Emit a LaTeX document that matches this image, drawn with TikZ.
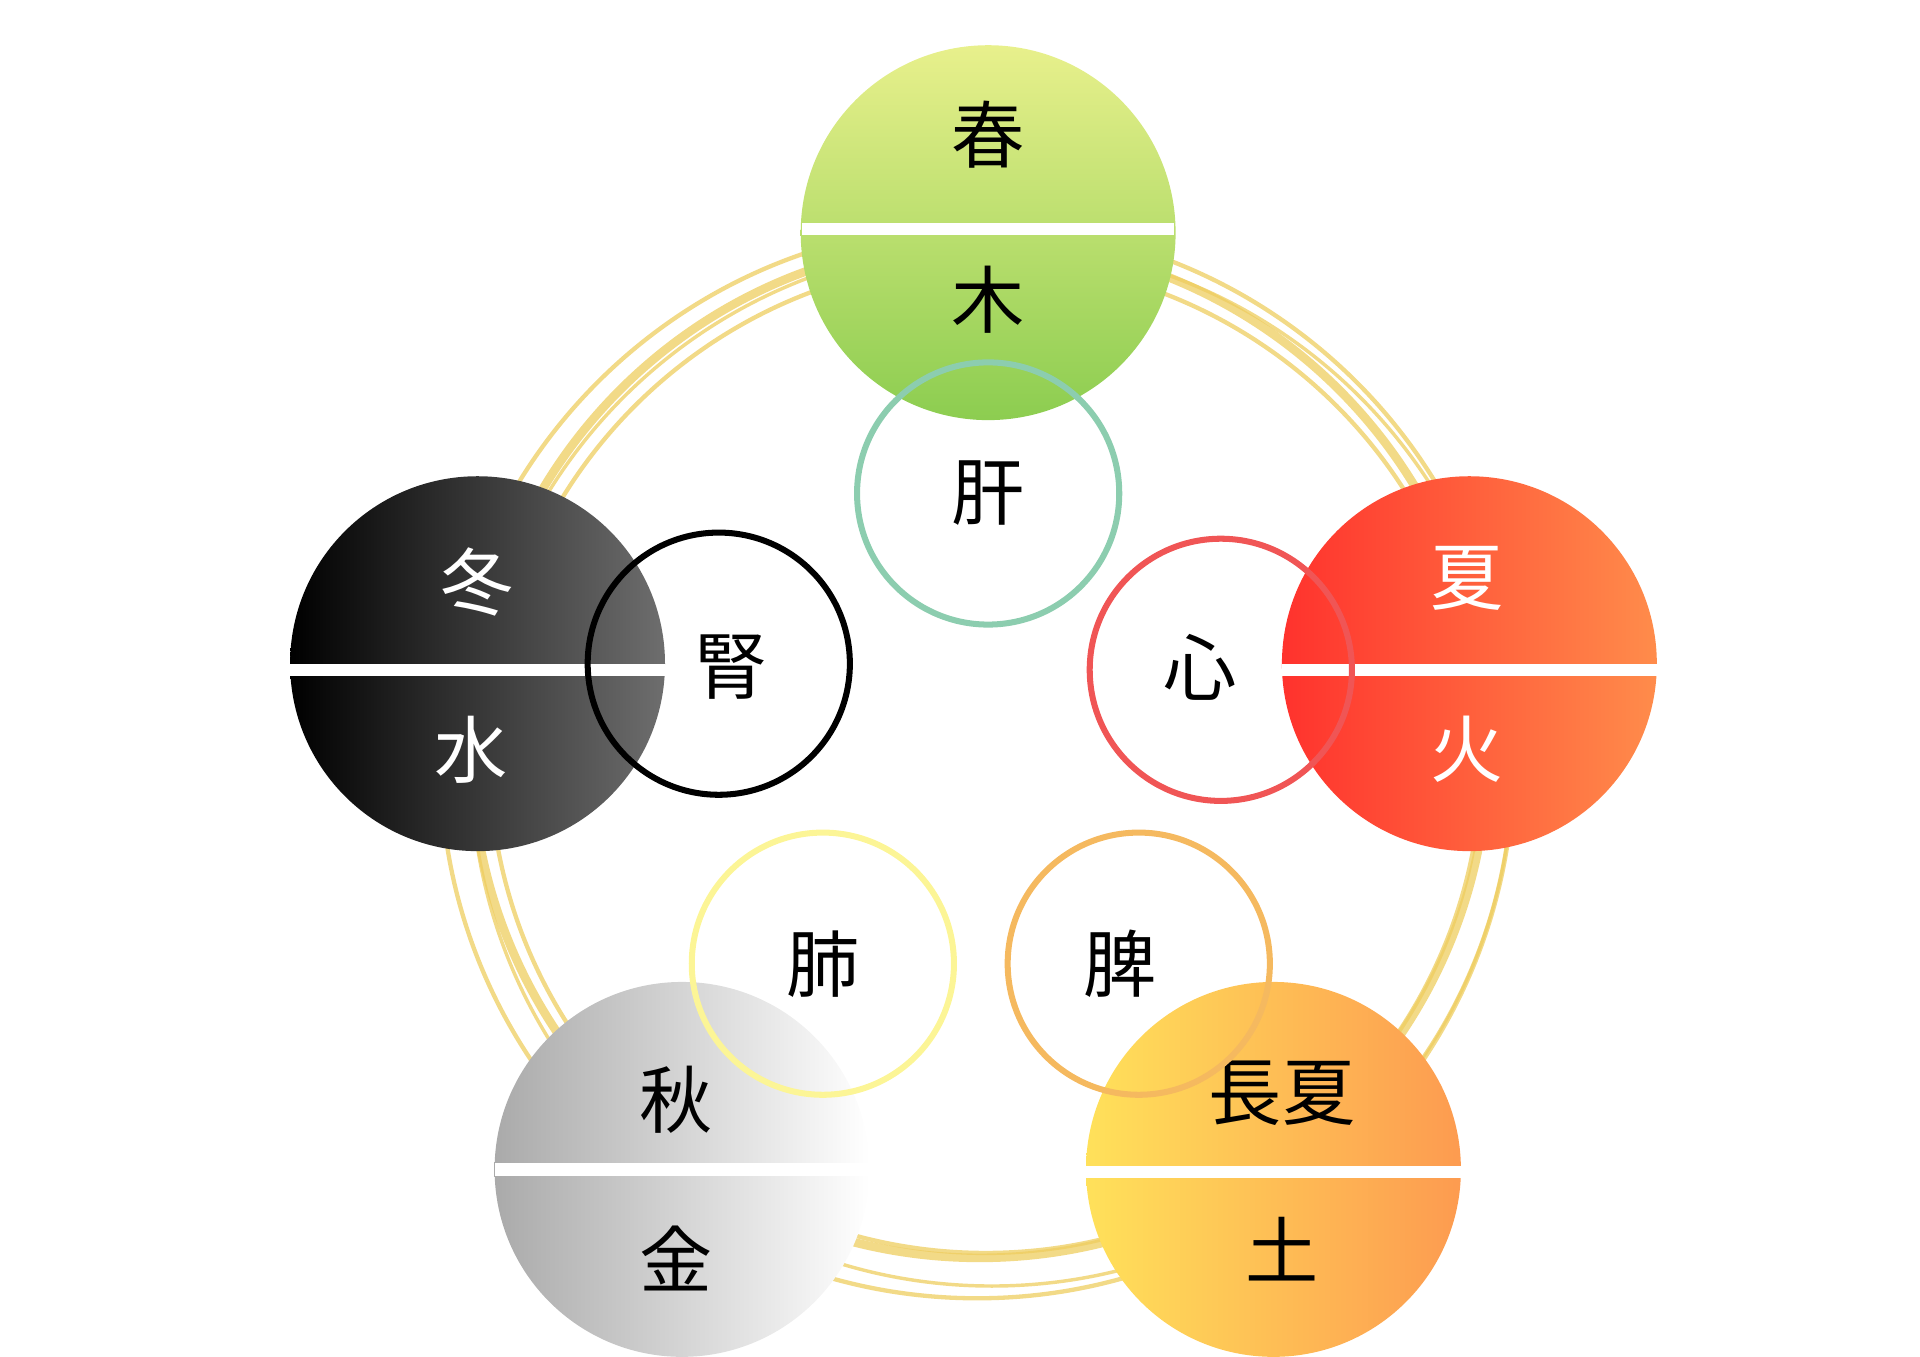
\documentclass[tikz,border=0pt]{standalone}
\usepackage{fontspec}
\newfontfamily\jp{Noto Sans CJK JP}
\begin{document}
\begin{tikzpicture}[x=0.01cm,y=-0.01cm,
  elem/.style={circle,minimum size=3.06cm,inner sep=0pt},
  organ/.style={circle,minimum size=2.14cm,inner sep=0pt,line width=1.4pt,draw},
  gold/.style={draw={rgb,255:red,238;green,205;blue,95},opacity=0.75},
  lab/.style={font=\jp\fontsize{17}{17}\selectfont,inner sep=0pt},
  band/.style={fill=white}]
\useasboundingbox (0,0) rectangle (1568,1108);
% gold rings
\coordinate (g1) at (805,618);
\coordinate (g2) at (800,612);
\coordinate (g3) at (810,625);
\coordinate (g4) at (798,622);
\draw[gold,line width=1pt] (g1) circle (4.05cm);
\draw[gold,line width=2pt] (g2) circle (4.15cm);
\draw[gold,line width=0.8pt] (g3) circle (4.25cm);
\draw[gold,line width=1pt] (g4) circle (4.38cm);
% element circles
\node[elem,shading angle=135,top color={rgb,255:red,232;green,240;blue,140},bottom color={rgb,255:red,140;green,205;blue,80}] (wood) at (807,190) {};
\node[elem,left color={rgb,255:red,255;green,50;blue,45},right color={rgb,255:red,255;green,140;blue,75}] (fire) at (1200,542) {};
\node[elem,left color=black,right color={rgb,255:red,110;green,110;blue,110}] (water) at (390,542) {};
\node[elem,left color={rgb,255:red,170;green,170;blue,170},right color=white] (metal) at (557,955) {};
\node[elem,left color={rgb,255:red,255;green,225;blue,90},right color={rgb,255:red,253;green,155;blue,80}] (earth) at (1040,955) {};
% bands
\fill[band] (655,182) rectangle (959,192);
\fill[band] (1047,542) rectangle (1353,552);
\fill[band] (237,542) rectangle (543,552);
\fill[band] (404,950) rectangle (710,960);
\fill[band] (887,952) rectangle (1193,962);
% labels
\node[lab] (t1) at (807,110) {春};
\node[lab] (t2) at (807,245) {木};
\node[lab,text=white] (t3) at (1198,472) {夏};
\node[lab,text=white] (t4) at (1198,612) {火};
\node[lab,text=white] (t5) at (390,475) {冬};
\node[lab,text=white] (t6) at (385,612) {水};
\node[lab] (t7) at (552,898) {秋};
\node[lab] (t8) at (552,1028) {金};
\node[lab] (t9) at (1047,893) {長夏};
\node[lab] (t10) at (1047,1020) {土};
% organ rings
\node[organ,draw={rgb,255:red,140;green,205;blue,175}] (liver) at (807,403) {};
\node[organ,draw={rgb,255:red,240;green,85;blue,85}] (heart) at (997,547) {};
\node[organ,draw=black] (kidney) at (587,542) {};
\node[organ,draw={rgb,255:red,252;green,245;blue,150}] (lung) at (672,787) {};
\node[organ,draw={rgb,255:red,245;green,185;blue,95}] (spleen) at (930,787) {};
\node[lab] (o1) at (807,403) {肝};
\node[lab] (o2) at (980,545) {心};
\node[lab] (o3) at (597,545) {腎};
\node[lab] (o4) at (672,787) {肺};
\node[lab] (o5) at (915,787) {脾};
\end{tikzpicture}
\end{document}
